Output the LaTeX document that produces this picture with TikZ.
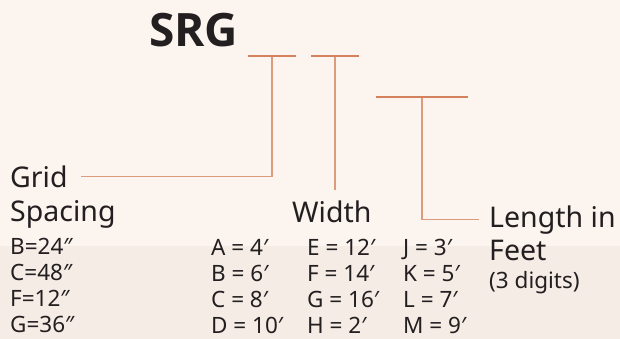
\documentclass[tikz,border=0pt]{standalone}
\usepackage{fontspec}
\setmainfont{Noto Sans}
\newfontfamily\headfont{Open Sans}
\usepackage{xcolor}
\usetikzlibrary{positioning}
\definecolor{bgtop}{HTML}{FBF4EF}
\definecolor{bgbot}{HTML}{F5ECE5}
\definecolor{tick}{HTML}{D4825E}
\definecolor{ink}{HTML}{231F20}

\begin{document}
\begin{tikzpicture}[x=1pt,y=-1pt,
  text=ink,
  bar/.style={fill=tick,inner sep=0pt,minimum height=2.6pt},
  lbl/.style={inner sep=0pt,anchor=base west,font=\fontsize{28.5}{32}\selectfont},
  code/.style={inner sep=0pt,anchor=base west,font=\fontsize{22.5}{26}\selectfont},
  lead/.style={draw=tick!80,line width=1.3pt,shorten >=10pt}
]
\fill[bgtop] (0,0) rectangle (620,246);
\fill[bgbot] (0,246) rectangle (620,339);
\useasboundingbox (0,0) rectangle (620,339);
\node[anchor=base west,inner sep=0pt,font=\headfont\fontsize{46}{50}\selectfont\bfseries] (srg) at (149,47) {SRG};
\node[bar,minimum width=48pt] (b1) at (272,56) {};
\node[bar,minimum width=48pt] (b2) at (335,56) {};
\node[bar,minimum width=92pt] (b3) at (422,97) {};
\node[lbl] (grid) at (10,187) {Grid};
\node[lbl] (spacing) at (10,221) {Spacing};
\node[lbl] (width) at (292,222) {Width};
\node[lbl] (len) at (489,227) {Length in};
\node[lbl] (feet) at (489,260) {Feet};
\node[code] (digits) at (489,288) {(3 digits)};
\foreach \t [count=\i] in {B=24″,C=48″,F=12″,G=36″}
  \node[code] (gs\i) at (10,228+26*\i) {\t};
\foreach \t [count=\i] in {A = 4′,B = 6′,C = 8′,D = 10′}
  \node[code] (wa\i) at (211,229+26*\i) {\t};
\foreach \t [count=\i] in {E = 12′,F = 14′,G = 16′,H = 2′}
  \node[code] (wb\i) at (307,229+26*\i) {\t};
\foreach \t [count=\i] in {J = 3′,K = 5′,L = 7′,M = 9′}
  \node[code] (ln\i) at (403,229+26*\i) {\t};
\draw[lead] (b1.south) |- ([xshift=3pt]grid.east);
\draw[lead] (b2.south) -- (b2 |- width.north);
\draw[lead] (b3.south) |- (len.west);
\end{tikzpicture}
\end{document}
